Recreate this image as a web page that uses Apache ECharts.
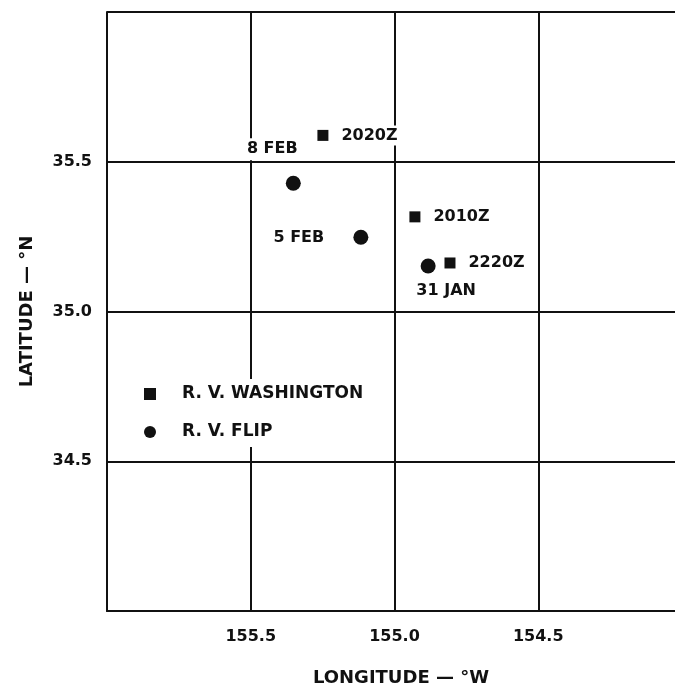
<!DOCTYPE html>
<html>
<head>
<meta charset="utf-8">
<script src="https://cdn.jsdelivr.net/npm/echarts@6/dist/echarts.min.js"></script>
<style>
  html, body { margin: 0; padding: 0; background: #fff; }
  #chart { width: 675px; height: 697px; }
</style>
</head>
<body>
<div id="chart"></div>
<script>
// Ship positions (longitude °W, latitude °N)
const washingtonLon = [155.249, 154.929, 154.807];
const washingtonLat = [35.588, 35.316, 35.162];
const washingtonTimes = ['2020Z', '2010Z', '2220Z'];

const flipLon = [155.352, 155.117, 154.883];
const flipLat = [35.428, 35.248, 35.152];
const flipDates = ['8 FEB', '5 FEB', '31 JAN'];

// Labelled ticks
const lonTicks = [155.5, 155.0, 154.5];
const latTicks = [34.5, 35.0, 35.5];

const FONT = 'DejaVu Sans';
const INK = '#111';

// Where each date label sits relative to its circle
const flipLabelOffsets = [[-21, -34], [-62, 1], [18, 25]];

const isTick = (ticks, v) => ticks.some(t => Math.abs(t - v) < 1e-6);

const chart = echarts.init(document.getElementById('chart'), null, { renderer: 'canvas' });

const lineStyle = { color: INK, width: 2 };

chart.setOption({
  backgroundColor: '#fff',
  animation: false,
  textStyle: { fontFamily: FONT },
  // the 154.0 edge of the plot runs just past the right side of the page
  grid: { left: 107, top: 12, width: 575, height: 599, outerBoundsMode: 'none' },
  xAxis: {
    type: 'value',
    inverse: true,
    min: 154, max: 156, interval: 0.5,
    axisLine: { show: true, onZero: false, lineStyle },
    axisTick: { show: false },
    splitLine: { show: true, lineStyle },
    axisLabel: {
      margin: 18,
      color: INK, fontFamily: FONT, fontWeight: 'bold', fontSize: 16,
      showMinLabel: false, showMaxLabel: false,
      formatter: v => isTick(lonTicks, v) ? v.toFixed(1) : ''
    },
    name: 'LONGITUDE — °W',
    nameLocation: 'middle',
    nameGap: 58,
    nameTextStyle: {
      color: INK, fontFamily: FONT, fontWeight: 'bold', fontSize: 18,
      padding: [0, 0, 0, 13]
    }
  },
  yAxis: {
    type: 'value',
    min: 34, max: 36, interval: 0.5,
    axisLine: { show: true, onZero: false, lineStyle },
    axisTick: { show: false },
    splitLine: { show: true, lineStyle },
    axisLabel: {
      margin: 15,
      color: INK, fontFamily: FONT, fontWeight: 'bold', fontSize: 16,
      showMinLabel: false, showMaxLabel: false,
      formatter: v => isTick(latTicks, v) ? v.toFixed(1) : ''
    },
    name: 'LATITUDE — °N',
    nameLocation: 'middle',
    nameRotate: 90,
    nameGap: 71,
    nameTextStyle: {
      color: INK, fontFamily: FONT, fontWeight: 'bold', fontSize: 18
    }
  },
  legend: {
    orient: 'vertical',
    left: 139,
    top: 379,
    padding: 5,
    backgroundColor: '#fff',
    itemWidth: 12,
    itemHeight: 12,
    itemGap: 18,
    itemStyle: { opacity: 1 },
    textStyle: {
      color: INK, fontFamily: FONT, fontWeight: 'bold', fontSize: 17,
      lineHeight: 20,
      padding: [0, 0, 0, 21]
    },
    data: [
      { name: 'R. V. WASHINGTON', icon: 'rect' },
      { name: 'R. V. FLIP', icon: 'circle' }
    ]
  },
  series: [
    {
      name: 'R. V. WASHINGTON',
      type: 'scatter',
      symbol: 'rect',
      symbolSize: 11,
      itemStyle: { color: INK, opacity: 1 },
      data: washingtonLon.map((lon, i) => ({ value: [lon, washingtonLat[i]], name: washingtonTimes[i] })),
      label: {
        show: true,
        position: 'right',
        distance: 11,
        formatter: p => p.name,
        color: INK, fontFamily: FONT, fontWeight: 'bold', fontSize: 16,
        backgroundColor: '#fff',
        padding: [2, 3, 2, 2]
      },
      z: 3
    },
    {
      name: 'R. V. FLIP',
      type: 'scatter',
      symbol: 'circle',
      symbolSize: 15,
      itemStyle: { color: INK, opacity: 1 },
      data: flipLon.map((lon, i) => ({
        value: [lon, flipLat[i]],
        name: flipDates[i],
        label: { offset: flipLabelOffsets[i] }
      })),
      label: {
        show: true,
        position: 'inside',
        formatter: p => p.name,
        color: INK, fontFamily: FONT, fontWeight: 'bold', fontSize: 16,
        backgroundColor: '#fff',
        padding: [3, 3, 3, 3]
      },
      z: 3
    }
  ]
});
</script>
</body>
</html>
